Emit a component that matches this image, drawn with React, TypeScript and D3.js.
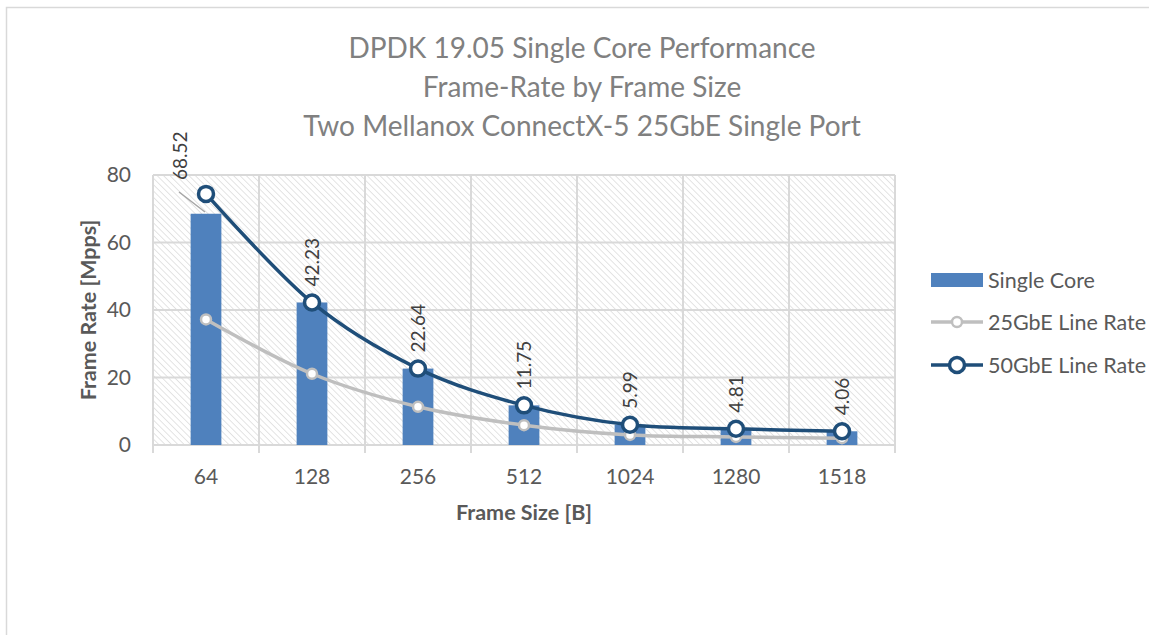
import React from 'react';
import * as d3 from 'd3';

const frameSizes = ['64', '128', '256', '512', '1024', '1280', '1518'];
const singleCore = [68.52, 42.23, 22.64, 11.75, 5.99, 4.81, 4.06];
const lineRate25 = [37.2, 21.11, 11.32, 5.87, 2.99, 2.4, 2.03];
const lineRate50 = [74.4, 42.23, 22.64, 11.75, 5.99, 4.81, 4.06];
const yTicks = [0, 20, 40, 60, 80];
const titleLines = [
  'DPDK 19.05 Single Core Performance',
  'Frame-Rate by Frame Size',
  'Two Mellanox ConnectX-5 25GbE Single Port',
];

const FONT = 'Lato, "Open Sans", sans-serif';
const BAR = '#4f81bd';
const NAVY = '#1f4e79';
const GREY = '#bfbfbf';
const GRID = '#d9d9d9';
const TEXT = '#595959';

export default function App() {
  // plot area
  const left = 153, right = 895, top = 175, bottom = 445;

  const x = d3.scaleBand<string>().domain(frameSizes).range([left, right]).paddingInner(0.71).paddingOuter(0.355);
  const band = d3.scaleBand<string>().domain(frameSizes).range([left, right]);
  const y = d3.scaleLinear().domain([0, 80]).range([bottom, top]);
  const cx = (c: string) => band(c)! + band.bandwidth() / 2;

  const line = d3.line<number>()
    .x((_, i) => cx(frameSizes[i]))
    .y(d => y(d))
    .curve(d3.curveCatmullRom.alpha(0));

  const boundaries = frameSizes.map(c => band(c)!).concat([right]);

  return (
    <svg width={1149} height={635} style={{ position: 'absolute', left: 0, top: 0, fontFamily: FONT }}>
      <defs>
        <pattern id="hatch" width={4.5} height={4.5} patternUnits="userSpaceOnUse" patternTransform="rotate(-45)">
          <rect width={4.5} height={4.5} fill="#fff" />
          <line x1={0} y1={0} x2={0} y2={4.5} stroke="#d9d9d9" strokeWidth={1.4} />
        </pattern>
      </defs>
      <rect x={0} y={0} width={1149} height={635} fill="#fff" />
      <rect x={6.5} y={7.5} width={1200} height={700} fill="none" stroke={GRID} strokeWidth={1.5} />

      {/* title */}
      {titleLines.map((t, i) => (
        <text key={t} x={582} y={58 + i * 39} textAnchor="middle" fontSize={28} fill="#808080">{t}</text>
      ))}

      {/* plot area */}
      <rect x={left} y={top} width={right - left} height={bottom - top} fill="url(#hatch)" />
      {yTicks.map(t => (
        <line key={t} x1={left} x2={right} y1={y(t)} y2={y(t)} stroke={GRID} strokeWidth={2} />
      ))}
      {boundaries.map((bx, i) => (
        <line key={i} x1={bx} x2={bx} y1={top} y2={bottom + 8} stroke={GRID} strokeWidth={2} />
      ))}

      {/* y ticks */}
      {yTicks.map(t => (
        <text key={t} x={131} y={y(t)} dy="0.35em" textAnchor="end" fontSize={21} fill={TEXT}>{t}</text>
      ))}
      {/* x ticks */}
      {frameSizes.map(c => (
        <text key={c} x={cx(c)} y={484} textAnchor="middle" fontSize={21} fill={TEXT}>{c}</text>
      ))}

      <text x={(left + right) / 2} y={520} textAnchor="middle" fontSize={21.5} fontWeight="bold" fill={TEXT}>Frame Size [B]</text>
      <text transform={`translate(96, ${(top + bottom) / 2}) rotate(-90)`} textAnchor="middle" fontSize={21.5} fontWeight="bold" fill={TEXT}>Frame Rate [Mpps]</text>

      {/* bars */}
      {singleCore.map((v, i) => (
        <rect key={i} x={x(frameSizes[i])} y={y(v)} width={x.bandwidth()} height={bottom - y(v)} fill={BAR} />
      ))}

      {/* 25GbE line */}
      <path d={line(lineRate25)!} fill="none" stroke={GREY} strokeWidth={3.5} />
      {lineRate25.map((v, i) => (
        <circle key={i} cx={cx(frameSizes[i])} cy={y(v)} r={5} fill="#fff" stroke={GREY} strokeWidth={2.5} />
      ))}

      {/* 50GbE line */}
      <path d={line(lineRate50)!} fill="none" stroke={NAVY} strokeWidth={3.5} />
      {lineRate50.map((v, i) => (
        <circle key={i} cx={cx(frameSizes[i])} cy={y(v)} r={7.5} fill="#fff" stroke={NAVY} strokeWidth={3.5} />
      ))}

      {/* data labels */}
      <line x1={179} y1={192} x2={205} y2={212} stroke="#a6a6a6" strokeWidth={1.5} />
      {singleCore.map((v, i) => {
        const lx = i === 0 ? 180 : cx(frameSizes[i]);
        const ly = i === 0 ? 180 : y(v) - 16;
        return (
          <text key={i} transform={`translate(${lx}, ${ly}) rotate(-90)`} dy="0.35em" fontSize={19} fill="#404040">
            {v.toFixed(2)}
          </text>
        );
      })}

      {/* legend */}
      <rect x={931} y={273} width={52} height={14} fill={BAR} />
      <text x={988} y={280} dy="0.35em" fontSize={21.5} fill={TEXT}>Single Core</text>
      <line x1={931} x2={983} y1={322} y2={322} stroke={GREY} strokeWidth={3.5} />
      <circle cx={957} cy={322} r={5} fill="#fff" stroke={GREY} strokeWidth={2.5} />
      <text x={988} y={322} dy="0.35em" fontSize={21.5} fill={TEXT}>25GbE Line Rate</text>
      <line x1={931} x2={983} y1={365} y2={365} stroke={NAVY} strokeWidth={3.5} />
      <circle cx={957} cy={365} r={7.5} fill="#fff" stroke={NAVY} strokeWidth={3.5} />
      <text x={988} y={365} dy="0.35em" fontSize={21.5} fill={TEXT}>50GbE Line Rate</text>
    </svg>
  );
}
